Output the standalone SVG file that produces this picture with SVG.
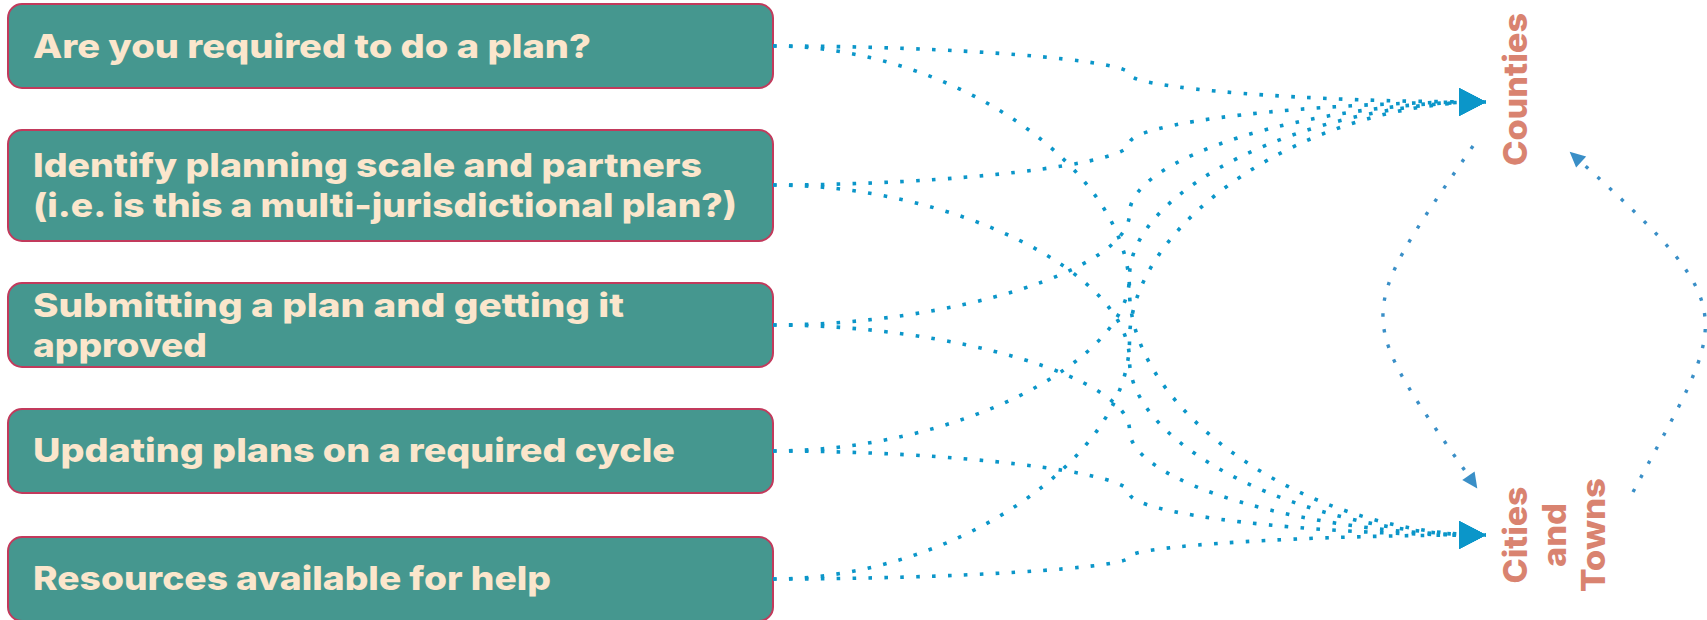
<svg xmlns="http://www.w3.org/2000/svg" width="1707" height="620" viewBox="0 0 1707 620">
<style>
.box{fill:#45978F;stroke:#C23A5C;stroke-width:2}
.bt{font-family:Inter,"Liberation Sans",Arial,sans-serif;font-weight:800;font-size:33px;fill:#FBE6CC}
.lab{font-family:Inter,"Liberation Sans",Arial,sans-serif;font-weight:800;font-size:33px;fill:#D98370}
.con{fill:none;stroke:#0B96C9;stroke-width:3.6;stroke-dasharray:3.6 12.3;marker-end:url(#big)}
.cyc{fill:none;stroke:#3A8FC7;stroke-width:3.4;stroke-dasharray:3.4 12.6;marker-end:url(#small)}
</style>
<defs>
<marker id="big" markerUnits="userSpaceOnUse" markerWidth="28" markerHeight="29" refX="27" refY="14" orient="auto" overflow="visible">
<path d="M0,0 L27,14 L0,28 z" fill="#0B96C9"/>
</marker>
<marker id="small" markerUnits="userSpaceOnUse" markerWidth="16" markerHeight="16" refX="15" refY="7.5" orient="auto" overflow="visible">
<path d="M0,0 L15.5,7.5 L0,15 z" fill="#3A8FC7"/>
</marker>
</defs>
<g id="node-plan-required">
<rect class="box" x="8" y="4" width="765" height="84" rx="14"/>
<text class="bt" x="33" y="58" textLength="558" lengthAdjust="spacingAndGlyphs">Are you required to do a plan?</text>
</g>
<g id="node-planning-scale">
<rect class="box" x="8" y="130" width="765" height="111" rx="14"/>
<text class="bt" x="33" y="177" textLength="669" lengthAdjust="spacingAndGlyphs">Identify planning scale and partners</text>
<text class="bt" x="33" y="217" textLength="704" lengthAdjust="spacingAndGlyphs">(i.e. is this a multi-jurisdictional plan?)</text>
</g>
<g id="node-submitting">
<rect class="box" x="8" y="283" width="765" height="84" rx="14"/>
<text class="bt" x="33" y="317" textLength="591" lengthAdjust="spacingAndGlyphs">Submitting a plan and getting it</text>
<text class="bt" x="33" y="357" textLength="174" lengthAdjust="spacingAndGlyphs">approved</text>
</g>
<g id="node-updating">
<rect class="box" x="8" y="409" width="765" height="84" rx="14"/>
<text class="bt" x="33" y="462" textLength="642" lengthAdjust="spacingAndGlyphs">Updating plans on a required cycle</text>
</g>
<g id="node-resources">
<rect class="box" x="8" y="537" width="765" height="84" rx="14"/>
<text class="bt" x="33" y="590" textLength="518" lengthAdjust="spacingAndGlyphs">Resources available for help</text>
</g>
<g id="node-counties">
<text class="lab" transform="translate(1527,166) rotate(-90)" x="0" y="0" textLength="153" lengthAdjust="spacingAndGlyphs">Counties</text>
</g>
<g id="node-cities-towns">
<text class="lab" transform="translate(1527,535) rotate(-90)" x="0" y="0" text-anchor="middle" textLength="97" lengthAdjust="spacingAndGlyphs">Cities</text>
<text class="lab" transform="translate(1566,535) rotate(-90)" x="0" y="0" text-anchor="middle" textLength="64" lengthAdjust="spacingAndGlyphs">and</text>
<text class="lab" transform="translate(1605,535) rotate(-90)" x="0" y="0" text-anchor="middle" textLength="114" lengthAdjust="spacingAndGlyphs">Towns</text>
</g>
<g id="connectors">
<path class="con" d="M773,46 C951.25,46 1129.5,60 1129.5,74 C1129.5,88 1307.75,102 1486,102"/>
<path class="con" d="M773,46 C951.25,46 1129.5,168.25 1129.5,290.5 C1129.5,412.75 1307.75,535 1486,535"/>
<path class="con" d="M773,185 C951.25,185 1129.5,164.25 1129.5,143.5 C1129.5,122.75 1307.75,102 1486,102"/>
<path class="con" d="M773,185 C951.25,185 1129.5,272.5 1129.5,360 C1129.5,447.5 1307.75,535 1486,535"/>
<path class="con" d="M773,325 C951.25,325 1129.5,269.25 1129.5,213.5 C1129.5,157.75 1307.75,102 1486,102"/>
<path class="con" d="M773,325 C951.25,325 1129.5,377.5 1129.5,430 C1129.5,482.5 1307.75,535 1486,535"/>
<path class="con" d="M773,451 C951.25,451 1129.5,363.75 1129.5,276.5 C1129.5,189.25 1307.75,102 1486,102"/>
<path class="con" d="M773,451 C951.25,451 1129.5,472 1129.5,493 C1129.5,514 1307.75,535 1486,535"/>
<path class="con" d="M773,579 C951.25,579 1129.5,459.75 1129.5,340.5 C1129.5,221.25 1307.75,102 1486,102"/>
<path class="con" d="M773,579 C951.25,579 1129.5,568 1129.5,557 C1129.5,546 1307.75,535 1486,535"/>
<path class="cyc" d="M1473,146 C1349.5,324.4 1355.1,312.7 1477,488"/>
<path class="cyc" d="M1633,492 C1729.3,311.7 1748.9,313.2 1570,152"/>
</g>
</svg>
